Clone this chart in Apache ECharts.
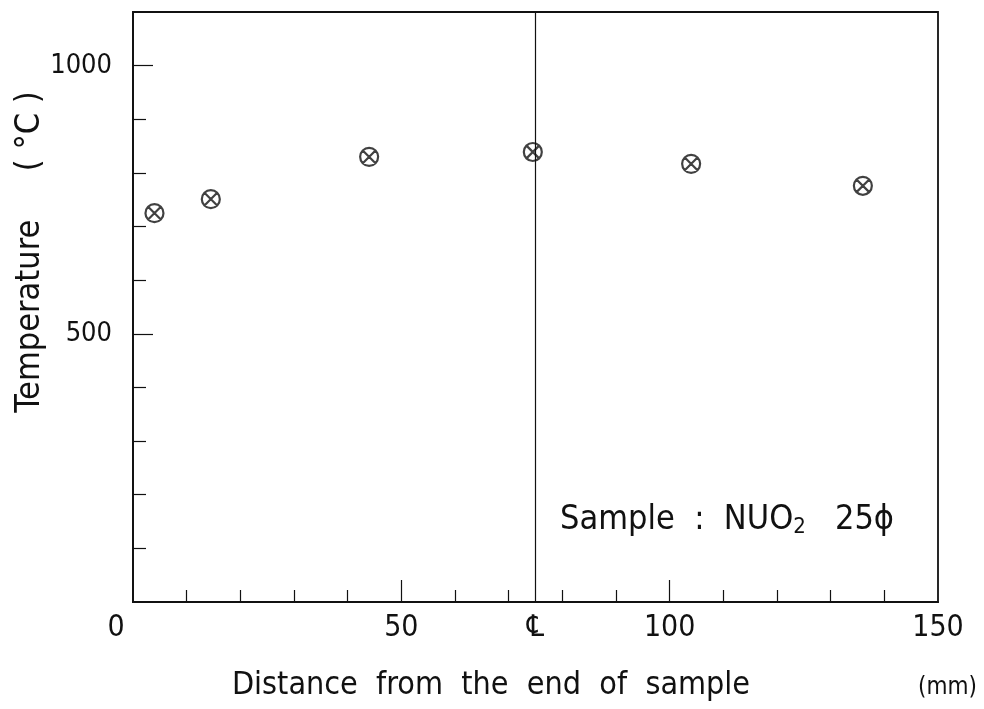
<!DOCTYPE html>
<html>
<head>
<meta charset="utf-8">
<script src="https://cdn.jsdelivr.net/npm/echarts@6/dist/echarts.min.js"></script>
<style>
  html, body { margin: 0; padding: 0; background: #fff; }
  #chart { width: 984px; height: 709px; }
</style>
</head>
<body>
<div id="chart"></div>
<script>
// measured points (mm from sample end, deg C)
const distance = [4, 14.5, 44, 74.5, 104, 136];
const temperature = [725, 751, 830, 839, 817, 776];
const xLabels = [0, 50, 75, 100, 150];
const xMinorTicks = [10, 20, 30, 40, 60, 70, 80, 90, 110, 120, 130, 140];
const xMajorTicks = [50, 100];
const yLabels = [500, 1000];
const yMinorTicks = [100, 200, 300, 400, 600, 700, 800, 900];
const centreLine = 75;

const font = "'DejaVu Sans Condensed', 'DejaVu Sans', sans-serif";
const ink = '#111';

// circle with an X in it
const crossCircle = 'path://M0,-10A10,10 0 1,1 0,10A10,10 0 1,1 0,-10Z' +
  'M-7.07,-7.07L7.07,7.07M7.07,-7.07L-7.07,7.07';

const chart = echarts.init(document.getElementById('chart'));

const option = {
  backgroundColor: '#fff',
  animation: false,
  grid: {
    left: 133, right: 46, top: 12, bottom: 107,
    outerBoundsMode: 'none',
    show: true, borderColor: ink, borderWidth: 1.8
  },
  xAxis: [
    {
      type: 'value', min: 0, max: 150,
      axisLine: { lineStyle: { color: ink, width: 1.8 } },
      axisTick: { inside: true, length: 12, customValues: xMinorTicks, lineStyle: { color: ink, width: 1.2 } },
      axisLabel: {
        customValues: xLabels, margin: 11,
        fontFamily: font, fontSize: 30, color: ink,
        formatter: v => v === 0 ? '{z|0}' : (v === 75 ? '℄' : String(v)),
        rich: { z: { fontFamily: font, fontSize: 30, color: ink, padding: [0, 34, 0, 0] } }
      },
      splitLine: { show: false }
    },
    {
      type: 'value', min: 0, max: 150, position: 'bottom',
      axisLine: { show: false },
      axisTick: { inside: true, length: 22, customValues: xMajorTicks, lineStyle: { color: ink, width: 1.2 } },
      axisLabel: { show: false },
      splitLine: { show: false }
    }
  ],
  yAxis: [
    {
      type: 'value', min: 0, max: 1100,
      axisLine: { show: true, lineStyle: { color: ink, width: 1.8 } },
      axisTick: { show: true, inside: true, length: 13, customValues: yMinorTicks, lineStyle: { color: ink, width: 1.2 } },
      axisLabel: {
        customValues: yLabels, margin: 21,
        fontFamily: font, fontSize: 27, color: ink,
        formatter: v => String(v)
      },
      splitLine: { show: false }
    },
    {
      type: 'value', min: 0, max: 1100, position: 'left',
      axisLine: { show: false },
      axisTick: { show: true, inside: true, length: 20, customValues: yLabels, lineStyle: { color: ink, width: 1.2 } },
      axisLabel: { show: false },
      splitLine: { show: false }
    }
  ],
  series: [
    {
      type: 'scatter',
      data: distance.map((d, i) => [d, temperature[i]]),
      symbol: crossCircle,
      symbolSize: 18,
      itemStyle: { color: 'rgba(0,0,0,0)', borderColor: ink, borderWidth: 2.2 },
      markLine: {
        silent: true,
        symbol: 'none',
        label: { show: false },
        lineStyle: { color: ink, width: 1.2, type: 'solid' },
        data: [{ xAxis: centreLine }]
      }
    }
  ],
  graphic: [
    {
      type: 'text', x: 30, y: 252, rotation: Math.PI / 2,
      style: {
        text: 'Temperature     ( °C )',
        fontFamily: font, fontSize: 34, fill: ink,
        textAlign: 'center', textVerticalAlign: 'middle'
      }
    },
    {
      type: 'text', x: 491, y: 686,
      style: {
        text: 'Distance  from  the  end  of  sample',
        fontFamily: font, fontSize: 32, fill: ink,
        textAlign: 'center', textVerticalAlign: 'middle'
      }
    },
    {
      type: 'text', left: 560, top: 503,
      style: {
        text: 'Sample  :  NUO{sub|2}   25ϕ',
        fontFamily: font, fontSize: 34, fill: ink,
        rich: { sub: { fontFamily: font, fontSize: 22, fill: ink, padding: [14, 0, 0, 0] } }
      }
    },
    {
      type: 'text', left: 918, top: 676,
      style: { text: '(mm)', fontFamily: font, fontSize: 24, fill: ink }
    }
  ]
};

chart.setOption(option);
</script>
</body>
</html>
